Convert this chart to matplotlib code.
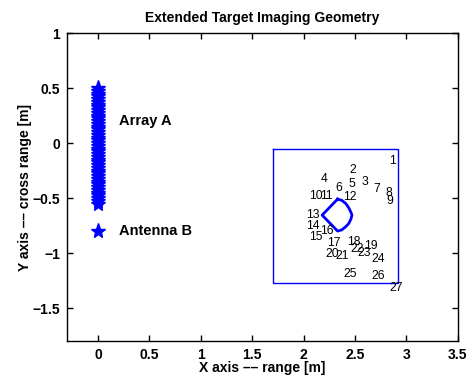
import matplotlib
matplotlib.use("Agg")
import matplotlib.pyplot as plt

plt.rcParams['font.family'] = ['Liberation Sans', 'DejaVu Sans']

# Array A element positions (cross range, at range 0)
array_y = [-0.55, -0.525, -0.5, -0.475, -0.45, -0.425, -0.4, -0.375, -0.35, -0.325,
           -0.3, -0.275, -0.25, -0.225, -0.2, -0.175, -0.15, -0.125, -0.1, -0.075,
           -0.05, -0.025, 0.0, 0.025, 0.05, 0.075, 0.1, 0.125, 0.15, 0.175,
           0.2, 0.225, 0.25, 0.275, 0.3, 0.325, 0.35, 0.375, 0.4, 0.425,
           0.45, 0.475, 0.5]
array_x = [0.0] * len(array_y)

antenna_b = (0.0, -0.8)

# Imaging region box
box_x = [1.70, 2.92, 2.92, 1.70, 1.70]
box_y = [-0.05, -0.05, -1.27, -1.27, -0.05]

# Target outline (D-shape)
shape_x = [2.33, 2.37, 2.41, 2.44, 2.46, 2.47, 2.46, 2.44, 2.41, 2.37, 2.33, 2.18, 2.33]
shape_y = [-0.51, -0.52, -0.55, -0.59, -0.63, -0.655, -0.69, -0.73, -0.76, -0.79, -0.80, -0.655, -0.51]

# Scatterer labels
label_x = [2.83, 2.45, 2.56, 2.17, 2.44, 2.31, 2.68, 2.80, 2.80, 2.05, 2.16, 2.38, 2.02,
           2.02, 2.05, 2.16, 2.23, 2.42, 2.59, 2.21, 2.31, 2.46, 2.52, 2.66, 2.39, 2.66, 2.83]
label_y = [-0.16, -0.245, -0.355, -0.326, -0.375, -0.405, -0.417, -0.45, -0.53, -0.48, -0.48, -0.49, -0.65,
           -0.75, -0.85, -0.80, -0.91, -0.90, -0.934, -1.01, -1.03, -0.965, -1.0, -1.05, -1.19, -1.21, -1.32]
labels = [str(i) for i in range(1, 28)]

fig = plt.figure(figsize=(4.76, 3.76), dpi=100)
ax = fig.add_axes([0.1408, 0.093, 0.8212, 0.819])

ax.plot(array_x, array_y, linestyle='none', marker='*', color='blue', markersize=11)
ax.plot([antenna_b[0]], [antenna_b[1]], linestyle='none', marker='*', color='blue', markersize=11)
ax.plot(box_x, box_y, color='blue', lw=1)
ax.plot(shape_x, shape_y, color='blue', lw=2)

for x, y, s in zip(label_x, label_y, labels):
    ax.text(x, y, s, fontsize=8.7, ha='left', va='center')

ax.text(0.21, 0.2, 'Array A', fontsize=10.5, fontweight='bold', ha='left', va='center')
ax.text(0.21, -0.8, 'Antenna B', fontsize=10.5, fontweight='bold', ha='left', va='center')

ax.set_xlim(-0.3, 3.5)
ax.set_ylim(-1.8, 1.0)
ax.set_xticks([0, 0.5, 1, 1.5, 2, 2.5, 3, 3.5])
ax.set_xticklabels(['0', '0.5', '1', '1.5', '2', '2.5', '3', '3.5'])
ax.set_yticks([-1.5, -1, -0.5, 0, 0.5, 1])
ax.set_yticklabels(['\u22121.5', '\u22121', '\u22120.5', '0', '0.5', '1'])
ax.tick_params(direction='in', top=True, right=True, length=4, width=1, labelsize=10, pad=5)
for lab in ax.get_xticklabels() + ax.get_yticklabels():
    lab.set_fontweight('bold')
for sp in ax.spines.values():
    sp.set_linewidth(1)

ax.set_title('Extended Target Imaging Geometry', fontsize=10, fontweight='bold', pad=8)
ax.set_xlabel('X axis \u2013\u2013 range [m]', fontsize=10, fontweight='bold', labelpad=-1)
ax.set_ylabel('Y axis \u2013\u2013 cross range [m]', fontsize=10, fontweight='bold', labelpad=0)

fig.savefig('out.png', dpi=100)
